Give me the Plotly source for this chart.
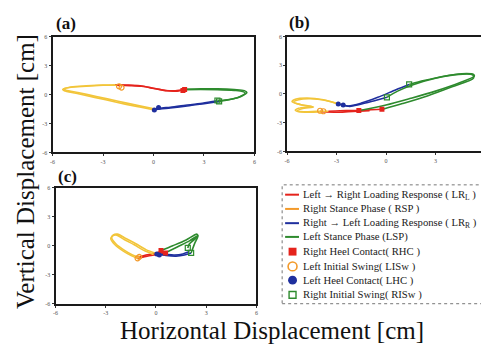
import plotly.graph_objects as go

# ---------------- data ----------------
# Panel (a)
a_red_x = [-2.3, -1.5, -0.8, 0.0, 0.7, 1.3, 1.85, None, -2.2, -1.4, -0.7, 0.1, 0.8, 1.4, 1.9]
a_red_y = [1.0, 0.98, 0.9, 0.65, 0.42, 0.38, 0.5, None, 0.95, 0.92, 0.85, 0.6, 0.38, 0.35, 0.55]
a_yel_x = [0.05, -1.0, -2.2, -3.5, -4.6, -5.3, -5.4, -5.0, -4.0, -3.0, -2.3, None,
           0.1, -0.9, -2.1, -3.4, -4.5, -5.2, -5.35, -4.9, -4.0, -3.0, -2.2]
a_yel_y = [-1.6, -1.25, -0.8, -0.3, 0.12, 0.38, 0.52, 0.72, 0.85, 0.95, 1.0, None,
           -1.5, -1.15, -0.7, -0.2, 0.2, 0.45, 0.58, 0.78, 0.9, 0.98, 0.95]
a_blu_x = [3.9, 3.0, 2.0, 1.0, 0.4, 0.05, None, 3.8, 2.9, 1.9, 1.0, 0.5, 0.1]
a_blu_y = [-0.72, -0.95, -1.2, -1.4, -1.5, -1.6, None, -0.65, -0.9, -1.12, -1.32, -1.4, -1.5]
a_grn_x = [1.85, 2.8, 3.8, 4.8, 5.4, 5.55, 5.2, 4.6, 3.9, None,
           1.9, 2.8, 3.8, 4.8, 5.3, 5.45, 5.1, 4.5, 3.8]
a_grn_y = [0.55, 0.6, 0.58, 0.5, 0.4, 0.2, -0.2, -0.5, -0.72, None,
           0.5, 0.52, 0.5, 0.42, 0.32, 0.15, -0.25, -0.52, -0.65]
a_rhc_x, a_rhc_y = [1.85, 1.75], [0.52, 0.42]
a_lisw_x, a_lisw_y = [-1.9, -2.05], [0.72, 0.85]
a_lhc_x, a_lhc_y = [0.05, 0.3], [-1.6, -1.35]
a_risw_x, a_risw_y = [3.9, 3.8], [-0.72, -0.62]

# Panel (b)
b_red_x = [-3.5, -2.8, -2.0, -1.6, -0.9, -0.2, None, -3.9, -3.0, -2.3, -1.7, -1.0]
b_red_y = [-1.8, -1.75, -1.72, -1.72, -1.65, -1.6, None, -1.85, -1.9, -1.85, -1.8, -1.75]
b_yel_x = [-2.9, -3.8, -4.8, -5.5, -5.7, -5.2, -4.5, -5.3, -5.5, -5.0, -4.2, -3.5, None,
           -2.7, -3.6, -4.6, -5.3, -5.6, -5.1, -4.4, -5.1, -5.4, -4.9, -4.1, -3.9]
b_yel_y = [-1.05, -0.6, -0.42, -0.55, -0.8, -1.1, -1.3, -1.5, -1.7, -1.85, -1.8, -1.8, None,
           -1.1, -0.7, -0.5, -0.6, -0.85, -1.15, -1.35, -1.55, -1.8, -1.9, -1.88, -1.85]
b_blu_x = [1.4, 0.6, -0.5, -1.5, -2.3, -2.9, None, 0.05, -0.7, -1.6, -2.2, -2.7]
b_blu_y = [1.0, 0.45, -0.35, -0.95, -1.25, -1.05, None, -0.35, -0.7, -1.1, -1.3, -1.1]
b_grn_x = [-1.6, 0.0, 1.5, 3.0, 4.5, 5.35, 5.3, 4.6, 3.5, 2.3, 1.4, None,
           -0.2, 1.0, 2.5, 4.0, 5.3, 5.25, 4.4, 3.0, 1.5, 0.7, 0.05]
b_grn_y = [-1.72, -1.15, -0.45, 0.3, 1.2, 1.85, 2.05, 2.12, 1.85, 1.4, 1.0, None,
           -1.6, -1.0, -0.2, 0.75, 1.65, 2.0, 2.05, 1.65, 0.9, 0.3, -0.35]
b_rhc_x, b_rhc_y = [-1.65, -0.25], [-1.72, -1.6]
b_lisw_x, b_lisw_y = [-3.8, -4.0], [-1.8, -1.75]
b_lhc_x, b_lhc_y = [-2.9, -2.6], [-1.05, -1.15]
b_risw_x, b_risw_y = [1.4, 0.05], [1.0, -0.35]

# Panel (c)
c_red_x = [-1.0, -0.6, -0.2, 0.1, 0.3, None, -1.1, -0.6, -0.1, 0.3, 0.6]
c_red_y = [-1.15, -0.95, -0.85, -0.7, -0.55, None, -1.3, -1.1, -0.95, -0.85, -0.75]
c_yel_x = [0.0, -0.6, -1.2, -1.8, -2.3, -2.55, -2.65, -2.4, -1.9, -1.4, -1.0, None,
           -0.15, -0.7, -1.3, -1.9, -2.35, -2.6, -2.7, -2.45, -1.95, -1.45, -1.1]
c_yel_y = [-0.8, -0.4, 0.2, 0.75, 1.2, 1.12, 0.85, 0.2, -0.45, -0.95, -1.2, None,
           -0.9, -0.5, 0.1, 0.65, 1.1, 1.0, 0.75, 0.1, -0.55, -1.05, -1.32]
c_blu_x = [2.1, 1.7, 1.2, 0.6, 0.1, None, 2.0, 1.6, 1.1, 0.5, 0.2]
c_blu_y = [-0.74, -0.95, -1.07, -1.0, -0.85, None, -0.6, -0.85, -0.95, -0.9, -0.9]
c_grn_x = [0.3, 1.0, 1.8, 2.45, 2.5, 2.3, 2.1, None, 0.6, 1.3, 2.0, 2.5, 2.4, 2.0, 1.9]
c_grn_y = [-0.5, 0.0, 0.6, 1.2, 0.95, 0.2, -0.74, None, -0.7, -0.1, 0.5, 1.05, 0.8, 0.2, -0.23]
c_rhc_x, c_rhc_y = [0.3, 0.57], [-0.5, -0.74]
c_lisw_x, c_lisw_y = [-1.0, -1.1], [-1.15, -1.3]
c_lhc_x, c_lhc_y = [0.05, 0.2], [-0.85, -0.95]
c_risw_x, c_risw_y = [1.9, 2.1], [-0.23, -0.74]

tick_vals = [-6, -3, 0, 3, 6]
tick_text = ["-6", "-3", "0", "3", "6"]

legend_labels = [
    "Left \u2192 Right Loading Response ( LR<sub>L</sub> )",
    "Right Stance Phase ( RSP )",
    "Right \u2192 Left Loading Response ( LR<sub>R</sub> )",
    "Left Stance Phase (LSP)",
    "Right Heel Contact( RHC )",
    "Left Initial Swing( LISw )",
    "Left Heel Contact( LHC )",
    "Right Initial Swing( RISw )",
]

# ---------------- styles ----------------
RED, YEL, BLU, GRN, ORG = "#e5231c", "#f2c53a", "#1f2f9e", "#2e8b2e", "#f39a2a"
PAGE_W, PAGE_H = 489, 346
OFF = 8  # default body margin of the html page
W, H = PAGE_W - OFF, PAGE_H - OFF
SERIF = "Liberation Serif"

def px(x):
    return (x - OFF) / W

def py(y):
    return 1 - (y - OFF) / H

fig = go.Figure()

panels = [
    ("x", "y", a_red_x, a_red_y, a_yel_x, a_yel_y, a_blu_x, a_blu_y, a_grn_x, a_grn_y,
     a_rhc_x, a_rhc_y, a_lisw_x, a_lisw_y, a_lhc_x, a_lhc_y, a_risw_x, a_risw_y),
    ("x2", "y2", b_red_x, b_red_y, b_yel_x, b_yel_y, b_blu_x, b_blu_y, b_grn_x, b_grn_y,
     b_rhc_x, b_rhc_y, b_lisw_x, b_lisw_y, b_lhc_x, b_lhc_y, b_risw_x, b_risw_y),
    ("x3", "y3", c_red_x, c_red_y, c_yel_x, c_yel_y, c_blu_x, c_blu_y, c_grn_x, c_grn_y,
     c_rhc_x, c_rhc_y, c_lisw_x, c_lisw_y, c_lhc_x, c_lhc_y, c_risw_x, c_risw_y),
]

for p in panels:
    xa, ya = p[0], p[1]
    lines = [(p[2], p[3], RED), (p[4], p[5], YEL), (p[6], p[7], BLU), (p[8], p[9], GRN)]
    for lx, ly, col in lines:
        fig.add_trace(go.Scatter(x=lx, y=ly, mode="lines", xaxis=xa, yaxis=ya,
                                 line=dict(color=col, width=1.6, shape="spline", smoothing=0.8),
                                 showlegend=False, hoverinfo="skip"))
    marks = [
        (p[10], p[11], dict(symbol="square", color=RED, size=5)),
        (p[12], p[13], dict(symbol="circle-open", color=ORG, size=5, line=dict(width=1.2))),
        (p[14], p[15], dict(symbol="circle", color=BLU, size=5)),
        (p[16], p[17], dict(symbol="square-open", color=GRN, size=5, line=dict(width=1.2))),
    ]
    for mx, my, mk in marks:
        fig.add_trace(go.Scatter(x=mx, y=my, mode="markers", xaxis=xa, yaxis=ya,
                                 marker=mk, showlegend=False, hoverinfo="skip"))

# axes
axis_common = dict(range=[-6, 6], tickvals=tick_vals, ticktext=tick_text, showgrid=False,
                   zeroline=False, showline=True, mirror=True, linecolor="#1a1a1a", linewidth=2,
                   ticks="outside", ticklen=2, tickcolor="#333", tickwidth=1,
                   tickfont=dict(family=SERIF, size=6, color="#555"))

fig.update_layout(
    xaxis=dict(domain=[px(50), px(254)], anchor="y", **axis_common),
    yaxis=dict(domain=[py(152), py(34)], anchor="x", **axis_common),
    xaxis2=dict(domain=[px(287), px(487)], anchor="y2", **axis_common),
    yaxis2=dict(domain=[py(151), py(34)], anchor="x2", **axis_common),
    xaxis3=dict(domain=[px(53), px(256)], anchor="y3", **axis_common),
    yaxis3=dict(domain=[py(306), py(188)], anchor="x3", **axis_common),
)

annotations = [
    dict(text="<b>(a)</b>", x=px(51), y=py(21), xanchor="left", yanchor="middle"),
    dict(text="<b>(b)</b>", x=px(287), y=py(20), xanchor="left", yanchor="middle"),
    dict(text="<b>(c)</b>", x=px(53), y=py(176), xanchor="left", yanchor="middle"),
]
for a in annotations:
    a.update(xref="paper", yref="paper", showarrow=False, font=dict(family=SERIF, size=17, color="#111"))

annotations.append(dict(text="Horizontal Displacement [cm]", x=px(272), y=py(333), xref="paper", yref="paper",
                        showarrow=False, xanchor="center", yanchor="middle",
                        font=dict(family=SERIF, size=25, color="#111")))
annotations.append(dict(text="Vertical Displacement [cm]", x=px(22), y=py(171), xref="paper", yref="paper",
                        showarrow=False, xanchor="center", yanchor="middle", textangle=-90,
                        font=dict(family=SERIF, size=25, color="#111")))

# manual legend box
shapes = [dict(type="rect", xref="paper", yref="paper", x0=px(282), x1=px(488), y0=py(306), y1=py(185),
               line=dict(color="#777", width=1, dash="dot"), fillcolor="white", layer="below")]
row_y = [195, 209.5, 224, 238, 253, 268, 282, 297]
line_cols = [RED, ORG, BLU, GRN]
for i, lab in enumerate(legend_labels):
    yy = row_y[i]
    if i < 4:
        shapes.append(dict(type="line", xref="paper", yref="paper", x0=px(285), x1=px(299), y0=py(yy), y1=py(yy),
                           line=dict(color=line_cols[i], width=2)))
    annotations.append(dict(text=lab, x=px(301), y=py(yy), xref="paper", yref="paper", showarrow=False,
                            xanchor="left", yanchor="middle", font=dict(family=SERIF, size=10.7, color="#222")))

# legend marker swatches (square / open circle / filled circle / open square)
shapes.append(dict(type="rect", xref="paper", yref="paper", x0=px(288.5), x1=px(296.5), y0=py(257), y1=py(249),
                   line=dict(color=RED, width=0), fillcolor=RED))
shapes.append(dict(type="circle", xref="paper", yref="paper", x0=px(288), x1=px(297), y0=py(272.5), y1=py(263.5),
                   line=dict(color=ORG, width=1.6), fillcolor="rgba(0,0,0,0)"))
shapes.append(dict(type="circle", xref="paper", yref="paper", x0=px(288), x1=px(297), y0=py(286.5), y1=py(277.5),
                   line=dict(color=BLU, width=0), fillcolor=BLU))
shapes.append(dict(type="rect", xref="paper", yref="paper", x0=px(289), x1=px(296), y0=py(300.5), y1=py(293.5),
                   line=dict(color=GRN, width=1.4), fillcolor="rgba(0,0,0,0)"))

fig.update_layout(
    width=W, height=H, margin=dict(l=0, r=0, t=0, b=0),
    paper_bgcolor="white", plot_bgcolor="white",
    showlegend=False, annotations=annotations, shapes=shapes,
)

fig.write_html("out.html")
